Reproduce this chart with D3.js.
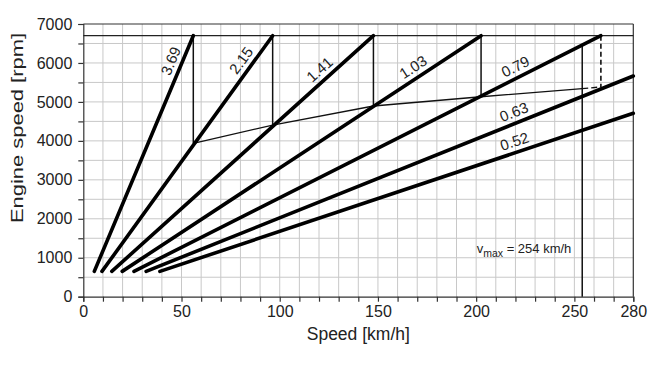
<!DOCTYPE html>
<html>
<head>
<meta charset="utf-8">
<script src="https://cdn.jsdelivr.net/npm/d3@7"></script>
<style>
  body { margin: 0; background: #fff; }
  text { font-family: "Liberation Sans", Arial, sans-serif; fill: #222; }
</style>
</head>
<body>
<svg id="chart"></svg>
<script>
// gear ratios and the ends of each gear line (speed km/h, engine rpm)
const ratios = ["3.69", "2.15", "1.41", "1.03", "0.79", "0.63", "0.52"];
const startSpeed = [5.6, 9.5, 14.5, 19.8, 25.8, 32, 39];
const startRpm = [650, 650, 650, 650, 650, 650, 650];
const endSpeed = [56, 96.4, 147.7, 202.5, 263.5, 280, 280];
const endRpm = [6700, 6700, 6700, 6700, 6700, 5665, 4707];

// shift points (rpm after up-shift)
const shiftSpeed = [56, 96.4, 147.7, 202.5, 254, 263.5];
const shiftRpm = [3937, 4407, 4895, 5133, 5340, 5385];

const maxRpm = 6700;
const vmax = 254;
const vmaxRpm = 6440;

const xTicks = d3.range(0, 281, 10);
const xLabels = [0, 50, 100, 150, 200, 250, 280];
const yTicks = d3.range(0, 7001, 500);
const yLabels = [0, 1000, 2000, 3000, 4000, 5000, 6000, 7000];

// where along each line the ratio label sits (speed)
const labelAt = [49.7, 84.9, 124, 171, 222.5, 221.3, 221.3];

const w = 660, h = 365;
const m = { top: 24, right: 26.7, bottom: 68.3, left: 83.3 };

const svg = d3.select("#chart").attr("width", w).attr("height", h);

const x = d3.scaleLinear().domain([0, 280]).range([m.left, w - m.right]);
const y = d3.scaleLinear().domain([0, 7000]).range([h - m.bottom, m.top]);

// grid
svg.append("g")
    .selectAll("line")
    .data(xTicks.filter(d => d > 0 && d < 280))
    .enter()
    .append("line")
        .attr("x1", d => x(d)).attr("x2", d => x(d))
        .attr("y1", y(0)).attr("y2", y(7000))
        .style("stroke", "#c8c8c8");

svg.append("g")
    .selectAll("line")
    .data(yTicks.filter(d => d > 0 && d < 7000))
    .enter()
    .append("line")
        .attr("x1", x(0)).attr("x2", x(280))
        .attr("y1", d => y(d)).attr("y2", d => y(d))
        .style("stroke", "#c8c8c8");

// axes
let xAxis = svg.append("g")
    .attr("transform", `translate(0,${y(0)})`)
    .call(d3.axisBottom(x).tickValues(xTicks).tickSize(5).tickPadding(4)
        .tickFormat(d => xLabels.includes(d) ? d : ""));

let yAxis = svg.append("g")
    .attr("transform", `translate(${x(0)},0)`)
    .call(d3.axisLeft(y).tickValues(yTicks).tickSize(5).tickPadding(6)
        .tickFormat(d => yLabels.includes(d) ? d : ""));

[xAxis, yAxis].forEach(a => {
    a.select(".domain").style("stroke", "#333").style("stroke-width", 1.2);
    a.selectAll(".tick line").style("stroke", "#333").style("stroke-width", 1.2);
    a.selectAll("text").style("font-size", "16px").style("fill", "#222")
        .style("font-family", "Liberation Sans, Arial, sans-serif");
});

// frame top and right
svg.append("line")
    .attr("x1", x(0)).attr("x2", x(280)).attr("y1", y(7000)).attr("y2", y(7000))
    .style("stroke", "#333").style("stroke-width", 1.2);
svg.append("line")
    .attr("x1", x(280)).attr("x2", x(280)).attr("y1", y(0)).attr("y2", y(7000))
    .style("stroke", "#333").style("stroke-width", 1.2);

// max rpm line
svg.append("line")
    .attr("x1", x(0)).attr("x2", x(280)).attr("y1", y(maxRpm)).attr("y2", y(maxRpm))
    .style("stroke", "#222").style("stroke-width", 1.2);

// vertical drops at shift
svg.append("g")
    .selectAll("line")
    .data(d3.range(4))
    .enter()
    .append("line")
        .attr("x1", i => x(endSpeed[i])).attr("x2", i => x(endSpeed[i]))
        .attr("y1", y(maxRpm)).attr("y2", i => y(shiftRpm[i]))
        .style("stroke", "#111").style("stroke-width", 1.5);

svg.append("line")
    .attr("x1", x(endSpeed[4])).attr("x2", x(endSpeed[4]))
    .attr("y1", y(maxRpm)).attr("y2", y(shiftRpm[5]))
    .style("stroke", "#111").style("stroke-width", 1.6)
    .style("stroke-dasharray", "5,3");

// shift line
let line = d3.line().x(d => x(d[0])).y(d => y(d[1]));
let shiftPts = shiftSpeed.map((s, i) => [s, shiftRpm[i]]);
svg.append("path")
    .attr("d", line(shiftPts.slice(0, 5)))
    .style("fill", "none").style("stroke", "#111").style("stroke-width", 1.3);
svg.append("path")
    .attr("d", line(shiftPts.slice(4)))
    .style("fill", "none").style("stroke", "#111").style("stroke-width", 1.3)
    .style("stroke-dasharray", "6,3");

// vmax line
svg.append("line")
    .attr("x1", x(vmax)).attr("x2", x(vmax)).attr("y1", y(0)).attr("y2", y(vmaxRpm))
    .style("stroke", "#111").style("stroke-width", 1.5);

// gear lines
svg.append("g")
    .selectAll("line")
    .data(ratios)
    .enter()
    .append("line")
        .attr("x1", (d, i) => x(startSpeed[i])).attr("y1", (d, i) => y(startRpm[i]))
        .attr("x2", (d, i) => x(endSpeed[i])).attr("y2", (d, i) => y(endRpm[i]))
        .style("stroke", "#000").style("stroke-width", 3.6)
        .style("stroke-linecap", "round");

// ratio labels
svg.append("g")
    .selectAll("text")
    .data(ratios)
    .enter()
    .append("text")
        .text(d => d)
        .attr("text-anchor", "middle")
        .attr("dy", "0.35em")
        .style("font-size", "15px")
        .attr("transform", (d, i) => {
            let x0 = x(startSpeed[i]), y0 = y(startRpm[i]);
            let x1 = x(endSpeed[i]), y1 = y(endRpm[i]);
            let t = (labelAt[i] - startSpeed[i]) / (endSpeed[i] - startSpeed[i]);
            let px = x0 + t * (x1 - x0), py = y0 + t * (y1 - y0);
            let ang = Math.atan2(y1 - y0, x1 - x0);
            let off = 11;
            px += Math.sin(ang) * off;
            py -= Math.cos(ang) * off;
            return `translate(${px},${py}) rotate(${ang * 180 / Math.PI})`;
        });

// vmax label
let vt = svg.append("text")
    .attr("x", 476.7).attr("y", 253)
    .style("font-size", "13px");
vt.append("tspan").text("v");
vt.append("tspan").text("max").attr("dy", 4).style("font-size", "10.5px");
vt.append("tspan").text(" = 254 km/h").attr("dy", -4);

// axis titles
svg.append("text")
    .attr("x", (x(0) + x(280)) / 2).attr("y", 340)
    .attr("text-anchor", "middle")
    .style("font-size", "17.5px")
    .text("Speed [km/h]");

svg.append("text")
    .attr("transform", "translate(23,128) rotate(-90)")
    .attr("text-anchor", "middle")
    .attr("textLength", 190)
    .attr("lengthAdjust", "spacingAndGlyphs")
    .style("font-size", "17px")
    .text("Engine speed [rpm]");
</script>
</body>
</html>
